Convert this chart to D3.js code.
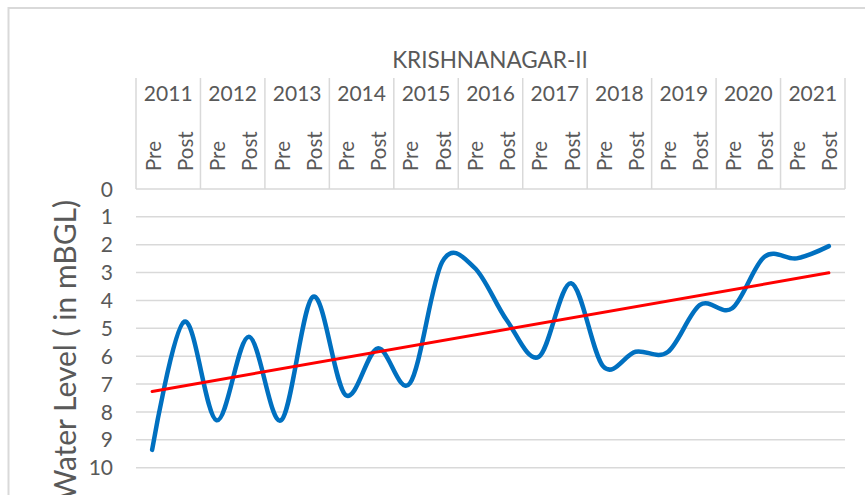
<!DOCTYPE html>
<html><head><meta charset="utf-8">
<script src="https://cdn.jsdelivr.net/npm/d3@7"></script>
<style>body{margin:0;background:#fff}svg{display:block}text{font-family:Lato,"Open Sans",sans-serif;fill:#595959}</style>
</head><body>
<svg id="c" width="865" height="495"></svg>
<script>
const years = ["2011","2012","2013","2014","2015","2016","2017","2018","2019","2020","2021"];
const seasons = ["Pre","Post"];
const waterLevel = [9.36,4.76,8.3,5.3,8.3,3.86,7.39,5.72,6.97,2.62,2.82,4.7,6.02,3.38,6.37,5.84,5.85,4.16,4.28,2.43,2.49,2.05];
const yTicks = [0,1,2,3,4,5,6,7,8,9,10];
const title = "KRISHNANAGAR-II";
const yTitle = "Water Level ( in mBGL)";

const svg = d3.select("#c");
const L = 136, R = 845, T = 189, B = 467.7;

const cats = [];
years.forEach(y => seasons.forEach(s => cats.push(y + "|" + s)));
const x = d3.scaleBand().domain(cats).range([L, R]);
const xYear = d3.scaleBand().domain(years).range([L, R]);
const y = d3.scaleLinear().domain([0, 10]).range([T, B]);
const cx = c => x(c) + x.bandwidth() / 2;

// outer border
svg.append("rect").attr("x", 8.5).attr("y", 8).attr("width", 900).attr("height", 600)
  .attr("fill", "none").attr("stroke", "#d9d9d9").attr("stroke-width", 2);

// gridlines
svg.append("g").selectAll("line").data(yTicks.filter(d => d > 0)).join("line")
  .attr("x1", L).attr("x2", R).attr("y1", d => y(d)).attr("y2", d => y(d))
  .attr("stroke", "#d9d9d9").attr("stroke-width", 1.5);

// category axis (top)
svg.append("line").attr("x1", L).attr("x2", R).attr("y1", T).attr("y2", T)
  .attr("stroke", "#d9d9d9").attr("stroke-width", 1.5);
const divs = years.map(d => xYear(d)).concat([R]);
svg.append("g").selectAll("line").data(divs).join("line")
  .attr("x1", d => d).attr("x2", d => d).attr("y1", 78).attr("y2", T)
  .attr("stroke", "#d9d9d9").attr("stroke-width", 1.5);

svg.append("g").selectAll("text").data(years).join("text")
  .attr("x", d => xYear(d) + xYear.bandwidth() / 2).attr("y", 101)
  .attr("text-anchor", "middle").attr("font-size", 21).text(d => d);

svg.append("g").selectAll("text").data(cats).join("text")
  .attr("transform", d => `translate(${cx(d) + 8.5},171) rotate(-90)`)
  .attr("font-size", 20.5).text(d => d.split("|")[1]);

// y tick labels
svg.append("g").selectAll("text").data(yTicks).join("text")
  .attr("x", 113).attr("y", d => y(d)).attr("dy", "0.36em")
  .attr("text-anchor", "end").attr("font-size", 21).text(d => d);

// title
svg.append("text").attr("x", 490).attr("y", 68).attr("text-anchor", "middle")
  .attr("font-size", 22.5).text(title);

// y title
svg.append("text").attr("transform", "translate(76,200) rotate(-90)")
  .attr("text-anchor", "end").attr("font-size", 30).text(yTitle);

// data line
const pts = waterLevel.map((v, i) => [cx(cats[i]), y(v)]);
svg.append("path").attr("d", d3.line().curve(d3.curveCatmullRom.alpha(0))(pts))
  .attr("fill", "none").attr("stroke", "#0070C0").attr("stroke-width", 4.5)
  .attr("stroke-linecap", "round").attr("stroke-linejoin", "round");

// linear trendline (least squares)
const n = waterLevel.length, idx = d3.range(n);
const mx = d3.mean(idx), my = d3.mean(waterLevel);
const slope = d3.sum(idx, i => (i - mx) * (waterLevel[i] - my)) / d3.sum(idx, i => (i - mx) ** 2);
const icpt = my - slope * mx;
svg.append("line")
  .attr("x1", cx(cats[0])).attr("y1", y(icpt))
  .attr("x2", cx(cats[n - 1])).attr("y2", y(icpt + slope * (n - 1)))
  .attr("stroke", "#FF0000").attr("stroke-width", 3).attr("stroke-linecap", "round");
</script>
</body></html>
